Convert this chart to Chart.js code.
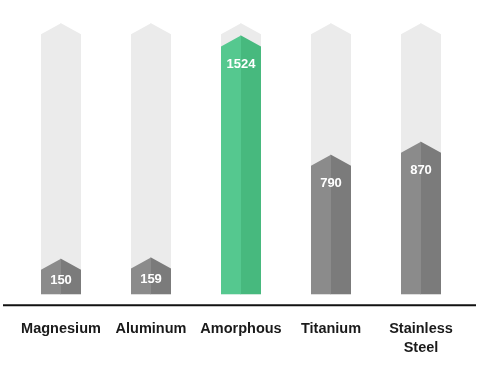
<!DOCTYPE html>
<html>
<head>
<meta charset="utf-8">
<script src="https://cdn.jsdelivr.net/npm/chart.js@4"></script>
<style>
  html, body { margin: 0; padding: 0; background: #fff; }
  #wrap { width: 479px; height: 366px; }
</style>
</head>
<body>
<div id="wrap"><canvas id="c"></canvas></div>
<script>
// Arrow-topped bars over light "track" bars. Shapes are drawn by a plugin from the bar elements.
const CATEGORIES = ["Magnesium", "Aluminum", "Amorphous", "Titanium", ["Stainless", "Steel"]];
const VALUES = [150, 159, 1524, 790, 870];
const TRACK = [1600, 1600, 1600, 1600, 1600];
const HIGHLIGHT = 2; // Amorphous

const GRAY = ["#8b8b8b", "#7b7b7b"];
const GREEN = ["#55c88f", "#47b97e"];
const TRACK_C = ["#ebebeb", "#ebebeb"];
const ROOF = 11;

const arrowBars = {
  id: "arrowBars",
  afterDatasetsDraw(chart) {
    const ctx = chart.ctx;
    ctx.save();
    chart.data.datasets.forEach((ds, di) => {
      chart.getDatasetMeta(di).data.forEach((bar, i) => {
        const { x, y, base, width } = bar.getProps(["x", "y", "base", "width"], true);
        const l = x - width / 2, r = x + width / 2;
        const [cl, cr] = ds.halves(i);
        ctx.fillStyle = cr;
        ctx.beginPath();
        ctx.moveTo(x - 0.5, base); ctx.lineTo(x - 0.5, y - ROOF); ctx.lineTo(x, y - ROOF); ctx.lineTo(r, y); ctx.lineTo(r, base);
        ctx.closePath(); ctx.fill();
        ctx.fillStyle = cl;
        ctx.beginPath();
        ctx.moveTo(l, base); ctx.lineTo(l, y); ctx.lineTo(x, y - ROOF); ctx.lineTo(x, base);
        ctx.closePath(); ctx.fill();
        if (ds.showValues) {
          ctx.fillStyle = "#fff";
          ctx.font = "bold 13px 'Liberation Sans', Arial, sans-serif";
          ctx.textAlign = "center";
          ctx.textBaseline = "middle";
          const ly = Math.min(y + 18, (y + base) / 2 - 2);
          ctx.fillText(String(ds.data[i]), x, ly);
        }
      });
    });
    // baseline
    const b = chart.chartArea.bottom;
    ctx.strokeStyle = "#111";
    ctx.lineWidth = 2;
    ctx.beginPath(); ctx.moveTo(3, b + 1); ctx.lineTo(476, b + 1); ctx.stroke();
    ctx.restore();
  },
};

new Chart(document.getElementById("c"), {
  type: "bar",
  data: {
    labels: CATEGORIES,
    datasets: [
      { data: TRACK, backgroundColor: "transparent", halves: () => TRACK_C, order: 2 },
      { data: VALUES, backgroundColor: "transparent", halves: (i) => (i === HIGHLIGHT ? GREEN : GRAY), showValues: true, order: 1 },
    ],
  },
  options: {
    responsive: true,
    maintainAspectRatio: false,
    animation: false,
    events: [],
    layout: { padding: { left: 16, right: 13, top: 18, bottom: -6 } },
    datasets: { bar: { grouped: false, barThickness: 40 } },
    plugins: { legend: { display: false }, tooltip: { enabled: false } },
    scales: {
      y: { display: false, min: -62, max: 1700 },
      x: {
        grid: { display: false, drawTicks: false },
        border: { display: false },
        ticks: { padding: 15, color: "#1a1a1a", font: { family: "'Liberation Sans', Arial, sans-serif", size: 14.5, weight: "bold", lineHeight: 1.3 } },
      },
    },
  },
  plugins: [arrowBars],
});
</script>
</body>
</html>
